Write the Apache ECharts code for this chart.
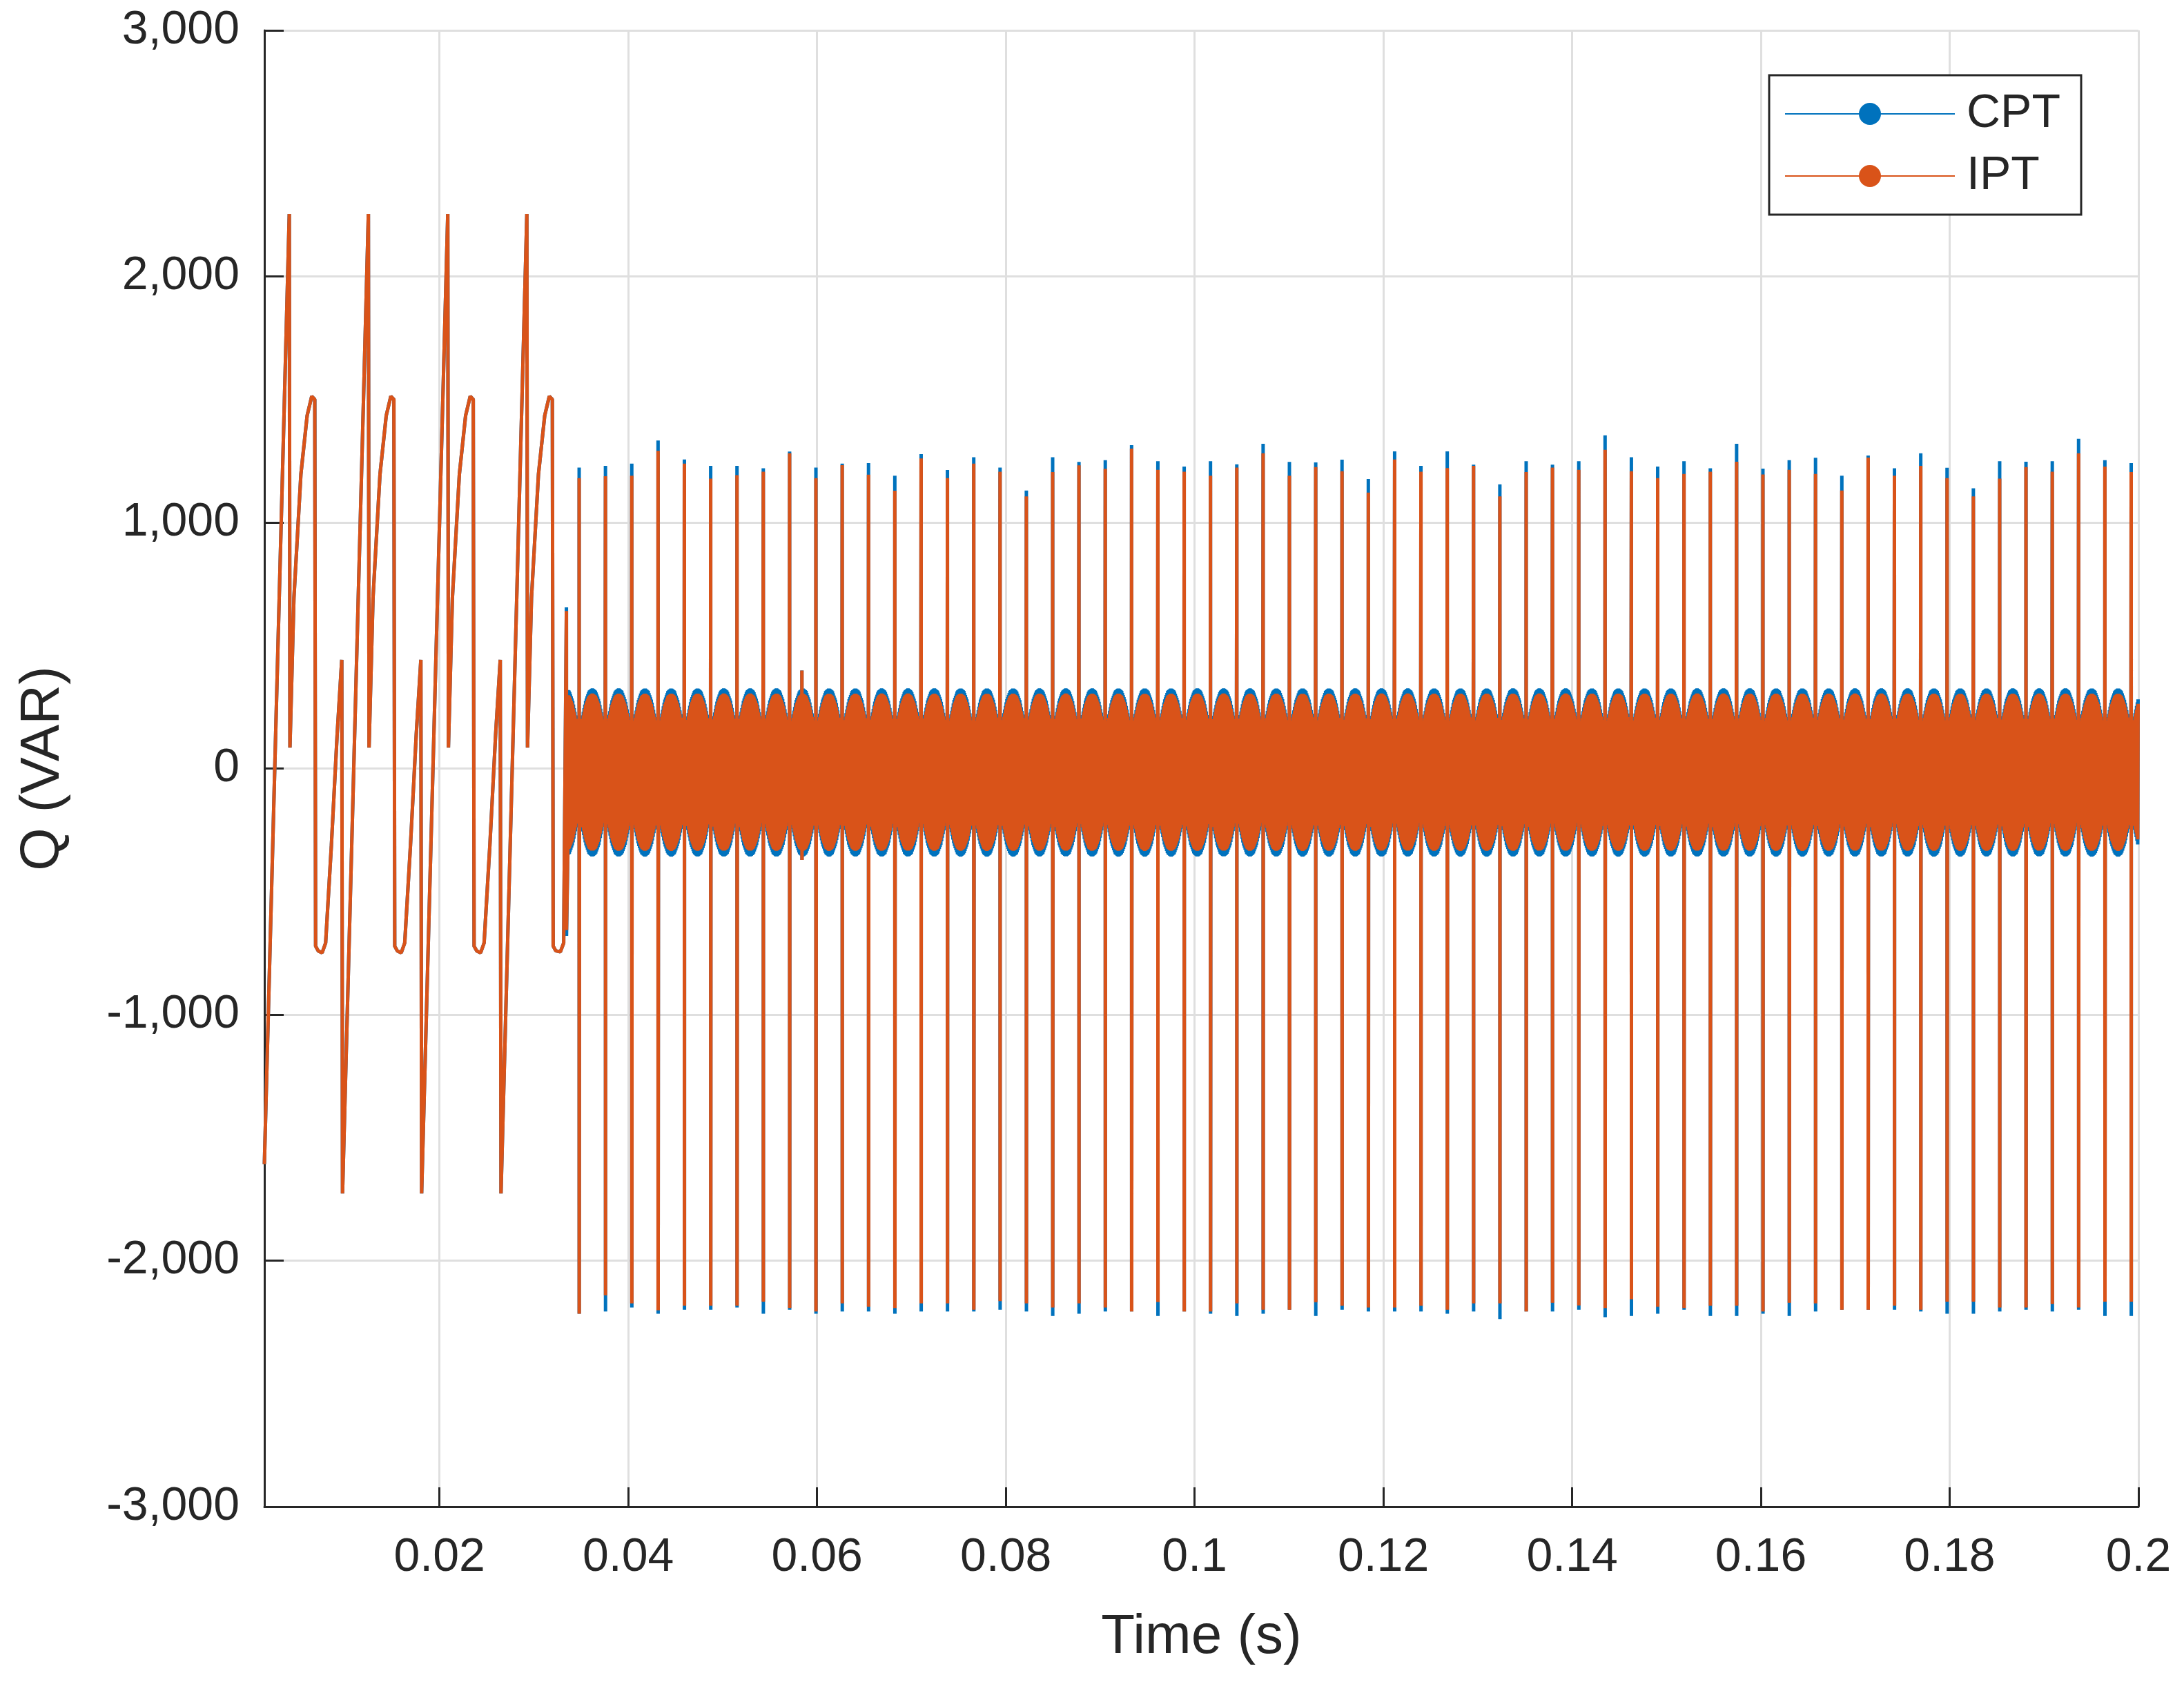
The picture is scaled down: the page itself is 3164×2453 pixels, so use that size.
<!DOCTYPE html>
<html><head><meta charset="utf-8">
<script src="https://cdn.jsdelivr.net/npm/echarts@6/dist/echarts.min.js"></script>
<style>html,body{margin:0;padding:0;background:#fff}#c{width:3164px;height:2453px}</style>
</head><body><div id="c"></div>
<script>
// ---- data ----
const xTicks = [0.02,0.04,0.06,0.08,0.1,0.12,0.14,0.16,0.18,0.2];
const yTicks = [-3000,-2000,-1000,0,1000,2000,3000];
// start-up waveform (identical for both methods)
const startPoint = [0.00145, -1608];
const peakTimes = [0.00409, 0.01247, 0.02088, 0.02926];
const cycleOffsets = [0,0.00007,0.00049,0.00123,0.00189,0.00238,0.00270,0.00279,0.00306,0.00348,0.00385,0.00446,0.00507,0.00556,0.00564];
const cycleValues  = [2254,85,693,1196,1434,1513,1500,-722,-741,-749,-709,-312,138,442,-1727];
const tailTimes  = [0.03205,0.03232,0.03281,0.03316];
const tailValues = [-722,-741,-745,-709];
const firstSpike = {t:0.03345, cptTop:655, iptTop:640, cptBot:-680, iptBot:-656};
// steady-state spikes
const spikeStart = 0.0348, spikePeriod = 0.002787;
const iptTops = [1180,1188,1190,1291,1239,1178,1192,1206,1281,1180,1233,1194,1129,1260,1180,1239,1206,1106,1205,1232,
                 1218,1300,1214,1206,1190,1223,1281,1190,1225,1208,1121,1256,1206,1221,1230,1106,1205,1223,1214,1295,
                 1208,1180,1197,1206,1247,1195,1214,1197,1130,1264,1190,1230,1180,1106,1178,1225,1206,1281,1227,1205];
const cptTops = [1223,1230,1239,1333,1256,1230,1230,1220,1288,1223,1239,1241,1190,1278,1213,1265,1223,1130,1265,1246,
                 1253,1314,1249,1227,1249,1236,1320,1246,1244,1255,1177,1289,1230,1289,1235,1155,1249,1235,1249,1354,
                 1265,1227,1249,1220,1320,1219,1253,1263,1190,1272,1220,1281,1222,1139,1249,1247,1249,1340,1253,1241];
const iptBots = [-2216,-2141,-2174,-2202,-2183,-2183,-2183,-2167,-2193,-2207,-2174,-2188,-2193,-2174,-2174,-2200,-2165,-2174,-2191,-2174,
                 -2191,-2207,-2168,-2207,-2207,-2174,-2200,-2200,-2169,-2183,-2191,-2191,-2183,-2200,-2174,-2174,-2207,-2172,-2182,-2193,
                 -2157,-2188,-2193,-2183,-2183,-2207,-2172,-2174,-2200,-2200,-2183,-2200,-2167,-2167,-2191,-2191,-2176,-2191,-2167,-2167];
const cptBots = [-2216,-2207,-2191,-2216,-2200,-2200,-2191,-2216,-2200,-2216,-2207,-2207,-2216,-2207,-2207,-2207,-2200,-2207,-2225,-2216,
                 -2207,-2207,-2225,-2207,-2216,-2225,-2216,-2200,-2225,-2200,-2207,-2207,-2207,-2216,-2207,-2238,-2207,-2207,-2200,-2230,
                 -2225,-2216,-2200,-2225,-2225,-2216,-2225,-2207,-2200,-2200,-2200,-2207,-2216,-2216,-2207,-2200,-2207,-2200,-2225,-2225];
// ripple envelope between two spikes (phase 0..1)
const humpPos = [150,200,260,295,305,295,260,200,150];
const humpNeg = [-160,-230,-290,-325,-335,-325,-290,-230,-160];
const anomaly = {t:0.0584, up:398, down:-372};

function interp(arr, p){
  const x = p*(arr.length-1), i = Math.floor(x), f = x-i;
  return i>=arr.length-1 ? arr[arr.length-1] : arr[i]*(1-f)+arr[i+1]*f;
}
function build(tops, bots, scale, fs){
  const d = [startPoint.slice()];
  peakTimes.forEach((pt,k)=>{
    const n = k<3 ? cycleOffsets.length : 7;
    for(let j=0;j<n;j++) d.push([pt+cycleOffsets[j], cycleValues[j]]);
  });
  tailTimes.forEach((t,j)=>d.push([t, tailValues[j]]));
  d.push([fs.t, fs.top]); d.push([fs.t+0.00001, fs.bot]);
  const dt = 0.00004; let s = 0, i = 0, anomDone=false;
  for(let t=0.0336; t<=0.2; t+=dt, i++){
    while(s<tops.length && spikeStart+s*spikePeriod <= t){
      const ts = spikeStart+s*spikePeriod;
      d.push([ts, tops[s]]); d.push([ts+0.000008, bots[s]]); s++;
    }
    if(!anomDone && t>=anomaly.t){ d.push([anomaly.t, anomaly.up]); d.push([anomaly.t+0.00001, anomaly.down]); anomDone=true; }
    let p = ((t-spikeStart)/spikePeriod)%1; if(p<0) p+=1;
    d.push([t, (i%2 ? interp(humpPos,p) : interp(humpNeg,p))*scale]);
  }
  return d;
}
const cptData = build(cptTops, cptBots, 1.07, {t:firstSpike.t, top:firstSpike.cptTop, bot:firstSpike.cptBot});
const iptData = build(iptTops, iptBots, 1.0, {t:firstSpike.t, top:firstSpike.iptTop, bot:firstSpike.iptBot});

const chart = echarts.init(document.getElementById('c'), null, {renderer:'canvas'});
const txt = '#262626';
chart.setOption({
  animation:false,
  grid:{left:383, right:66, top:44, bottom:270, containLabel:false},
  legend:{
    orient:'vertical', left:2563, top:109, padding:[22,30,22,22], itemGap:22,
    itemWidth:246, itemHeight:40, borderColor:txt, borderWidth:3, backgroundColor:'#fff',
    textStyle:{fontSize:68, color:txt, fontFamily:'Liberation Sans, Arial', padding:[0,0,0,12]},
    data:['CPT','IPT']
  },
  xAxis:{
    type:'value', min:0.00145, max:0.2,
    name:'Time (s)', nameLocation:'middle', nameGap:150,
    nameTextStyle:{fontSize:80, color:txt, fontFamily:'Liberation Sans, Arial'},
    axisLine:{show:true, onZero:false, lineStyle:{color:txt, width:3}},
    axisTick:{show:true, inside:true, length:28, customValues:xTicks, lineStyle:{color:txt, width:3}},
    axisLabel:{customValues:xTicks, fontSize:68, color:txt, margin:40, fontFamily:'Liberation Sans, Arial',
      formatter:v=>String(+(+v).toFixed(2))},
    splitLine:{show:true, lineStyle:{color:'#dfdfdf', width:3}}
  },
  yAxis:{
    type:'value', min:-3000, max:3000, interval:1000,
    name:'Q (VAR)', nameLocation:'middle', nameGap:280,
    nameTextStyle:{fontSize:80, color:txt, fontFamily:'Liberation Sans, Arial'},
    axisLine:{show:true, lineStyle:{color:txt, width:3}},
    axisTick:{show:true, inside:true, length:28, lineStyle:{color:txt, width:3}},
    axisLabel:{fontSize:68, color:txt, margin:36, fontFamily:'Liberation Sans, Arial'},
    splitLine:{show:true, lineStyle:{color:'#dfdfdf', width:3}}
  },
  series:[
    {name:'CPT', type:'line', data:cptData, showSymbol:false, symbol:'none', sampling:null, progressive:0,
     lineStyle:{color:'#0072BD', width:5}, itemStyle:{color:'#0072BD'}, z:2},
    {name:'IPT', type:'line', data:iptData, showSymbol:false, symbol:'none', sampling:null, progressive:0,
     lineStyle:{color:'#D95319', width:5}, itemStyle:{color:'#D95319'}, z:3}
  ]
});
</script></body></html>
